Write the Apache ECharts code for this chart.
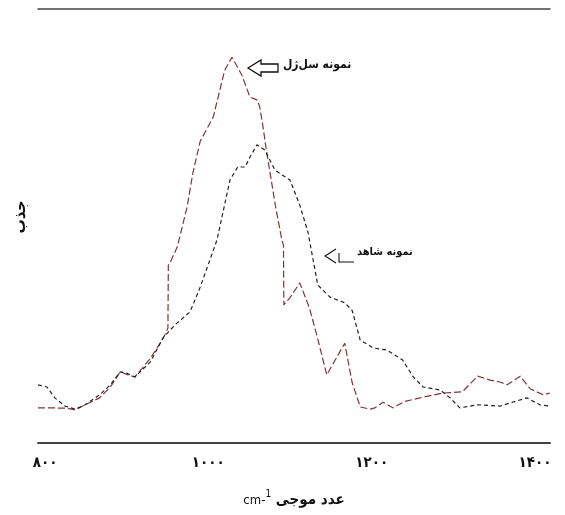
<!DOCTYPE html>
<html>
<head>
<meta charset="utf-8">
<script src="https://cdn.jsdelivr.net/npm/echarts@6/dist/echarts.min.js"></script>
<style>
  html, body { margin: 0; padding: 0; background: #fff; }
  #chart { width: 565px; height: 515px; }
</style>
</head>
<body>
<div id="chart"></div>
<script>
// 刻度
var tickValues = [800, 1000, 1200, 1400];
var tickLabels = ['۸۰۰', '۱۰۰۰', '۱۲۰۰', '۱۴۰۰'];

// نمونه سل ژل (قرمز)
var solGel = [
    [791.4, 8.1], [806, 8.1], [828, 8.0], [837, 7.6], [849, 8.8], [867, 10.4],
    [880, 12.9], [892, 16.4], [900, 15.8], [910, 15.2], [929, 19.5], [941, 23.0],
    [947, 25.0], [950.5, 26.5], [951, 41.0], [953, 41.5], [962, 45.2], [974, 54.4],
    [981, 62.2], [990, 69.5], [1006, 75.1], [1012, 79.7], [1020, 85.9], [1029, 88.9],
    [1041, 84.8], [1051, 79.7], [1060, 79.0], [1063, 77.4], [1067, 72.8], [1071, 67.5],
    [1076, 61.8], [1082, 54.8], [1090, 46.8], [1092, 45.6], [1092.5, 31.8], [1100, 33.5],
    [1112, 36.9], [1124, 31.0], [1134, 24.0], [1145, 15.7], [1155, 19.0], [1167, 23.0],
    [1176, 14.0], [1186, 8.3], [1198, 7.8], [1204, 8.1], [1214, 9.4], [1226, 8.1],
    [1241, 9.6], [1259, 10.4], [1287, 11.5], [1311, 11.8], [1320, 13.5], [1330, 15.4],
    [1345, 14.5], [1358, 14.0], [1366, 13.4], [1382, 15.4], [1394, 12.5], [1410, 11.1],
    [1418, 11.5]
];

// نمونه شاهد (مشکی)
var control = [
    [791.4, 13.4], [802.4, 12.9], [812, 10.4], [824.5, 8.5], [837, 7.8], [849, 8.8],
    [867, 11.1], [880, 13.4], [892, 16.4], [900, 16.1], [910, 15.2], [929, 18.7],
    [944.5, 24.2], [959, 27.2], [977.5, 30.2], [990, 35.9], [1010.6, 46.8], [1026.5, 60.6],
    [1036, 63.6], [1045, 63.6], [1051, 65.9], [1059.6, 68.7], [1069, 67.5], [1081.6, 62.9],
    [1090, 61.8], [1100, 60.6], [1112, 54.8], [1122, 48.6], [1134, 36.4], [1149, 33.6],
    [1167, 32.3], [1176, 30.6], [1186, 23.7], [1202, 21.9], [1219, 21.4], [1238, 19.1],
    [1251, 15.2], [1263, 12.9], [1284, 12.2], [1296, 10.4], [1308, 8.1], [1330, 8.8],
    [1357, 8.5], [1390, 10.4], [1406, 8.8], [1418, 8.5]
];

var chart = echarts.init(document.getElementById('chart'));
var font = 'DejaVu Sans Condensed, DejaVu Sans, sans-serif';

var option = {
    animation: false,
    backgroundColor: '#fff',
    grid: { left: 38, right: 15, top: 9, bottom: 72, outerBoundsMode: 'none' },
    xAxis: [{
        type: 'value',
        min: 791.4,
        max: 1418.4,
        axisLine: { show: true, lineStyle: { color: '#444', width: 2 } },
        axisTick: { show: false },
        splitLine: { show: false },
        axisLabel: {
            customValues: tickValues,
            margin: 13,
            fontFamily: font,
            fontWeight: 'bold',
            fontSize: 15,
            color: '#111',
            formatter: function (v) { return tickLabels[tickValues.indexOf(v)]; }
        },
        name: '{a|cm-}{sup|1}{b| عدد موجی}',
        nameLocation: 'middle',
        nameGap: 46,
        nameTextStyle: {
            rich: {
                a: { fontFamily: font, fontSize: 13, color: '#111', padding: [4, 0, 0, 0] },
                sup: { fontFamily: font, fontSize: 10, color: '#111', padding: [0, 0, 8, 0] },
                b: { fontFamily: font, fontSize: 15, fontWeight: 'bold', color: '#111', padding: [4, 0, 0, 0] }
            }
        }
    }, {
        type: 'value',
        position: 'top',
        min: 791.4,
        max: 1418.4,
        axisLine: { show: true, lineStyle: { color: '#444', width: 1.5 } },
        axisTick: { show: false },
        axisLabel: { show: false },
        splitLine: { show: false }
    }],
    yAxis: {
        type: 'value',
        min: 0,
        max: 100,
        axisLine: { show: false },
        axisTick: { show: false },
        axisLabel: { show: false },
        splitLine: { show: false },
        name: 'جذب',
        nameLocation: 'middle',
        nameRotate: 90,
        nameGap: 9,
        nameTextStyle: { fontFamily: font, fontSize: 16, fontWeight: 'bold', color: '#111', padding: [0, 0, 0, 18] }
    },
    series: [{
        name: 'نمونه سل ژل',
        type: 'line',
        data: solGel,
        showSymbol: false,
        lineStyle: { color: '#823535', width: 1.2, type: [7, 3] }
    }, {
        name: 'نمونه شاهد',
        type: 'line',
        data: control,
        showSymbol: false,
        lineStyle: { color: '#222', width: 1.2, type: [4, 3] }
    }],
    graphic: [
        // فلش توخالی
        {
            type: 'polygon',
            shape: { points: [[248, 68], [261, 60], [261, 64], [278, 64], [278, 72], [261, 72], [261, 76]] },
            style: { fill: 'none', stroke: '#111', lineWidth: 1.3 }
        },
        {
            type: 'text', left: 283, top: 59,
            style: { text: 'نمونه سل‌ژل', font: 'bold 12px ' + font, fill: '#111' }
        },
        // فلش دوم
        {
            type: 'polyline',
            shape: { points: [[336, 249], [325, 256], [336, 263]] },
            style: { fill: 'none', stroke: '#111', lineWidth: 1.1 }
        },
        {
            type: 'polyline',
            shape: { points: [[339, 253], [339, 262], [354, 262]] },
            style: { fill: 'none', stroke: '#111', lineWidth: 1.1 }
        },
        {
            type: 'text', left: 357, top: 247,
            style: { text: 'نمونه شاهد', font: 'bold 11px ' + font, fill: '#111' }
        }
    ]
};

chart.setOption(option);
</script>
</body>
</html>
